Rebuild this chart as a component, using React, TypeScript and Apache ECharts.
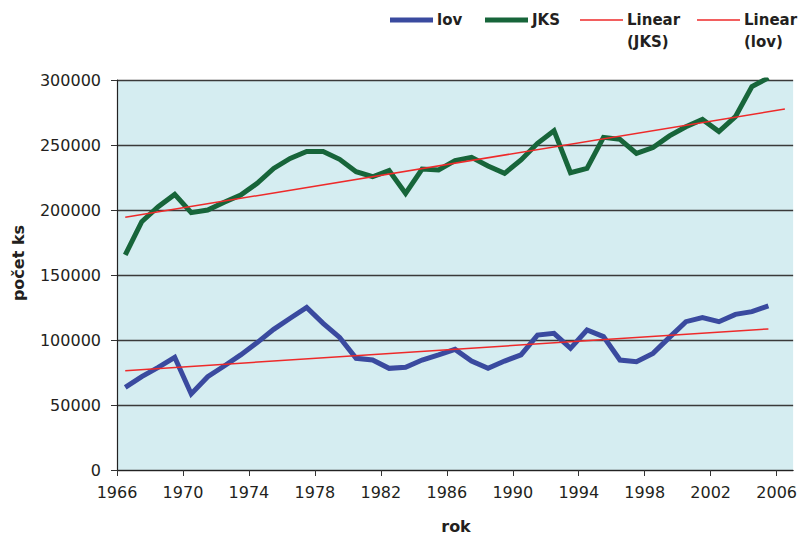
import React, { useEffect, useRef } from "react";
import * as echarts from "echarts";

const years = [
  1966, 1967, 1968, 1969, 1970, 1971, 1972, 1973, 1974, 1975,
  1976, 1977, 1978, 1979, 1980, 1981, 1982, 1983, 1984, 1985,
  1986, 1987, 1988, 1989, 1990, 1991, 1992, 1993, 1994, 1995,
  1996, 1997, 1998, 1999, 2000, 2001, 2002, 2003, 2004, 2005,
];

const lov = [
  63600, 71800, 79000, 86700, 58500, 71800, 80000, 88500, 98000, 108200,
  116700, 125100, 112800, 102000, 85900, 84600, 78200, 79000, 84600, 88500,
  92800, 83800, 78200, 83800, 88500, 103800, 105100, 93600, 107700, 102600,
  84600, 83300, 89700, 102000, 114100, 117200, 114100, 119700, 121800, 126200,
];

const jks = [
  165400, 191000, 202500, 212000, 198000, 200000, 206000, 211500, 220500, 232000,
  239700, 245000, 245000, 239000, 229500, 225600, 230300, 212800, 231500, 230800,
  238000, 240500, 233800, 228200, 238500, 251300, 261000, 228700, 232000, 255900,
  254400, 243600, 248000, 257000, 264000, 269700, 260300, 271800, 294900, 301700,
];

const trendJksYears = [1966, 2006];
const trendJksValues = [194400, 277700];
const trendLovYears = [1966, 2005];
const trendLovValues = [76400, 108500];

const xTickLabels = [1966, 1970, 1974, 1978, 1982, 1986, 1990, 1994, 1998, 2002, 2006];
const yTickMax = 300000;
const yTickStep = 50000;

const seriesNames = ["lov", "JKS", "Linear (JKS)", "Linear (lov)"];

const BLUE = "#3a4a9f";
const GREEN = "#17653a";
const RED = "#ee2a2a";
const TEXT = "#231f20";

// center of each yearly category
const pts = (ys: number[], vs: number[]) => ys.map((y, i) => [y + 0.5, vs[i]]);

export default function App() {
  const ref = useRef<HTMLDivElement>(null);

  useEffect(() => {
    if (!ref.current) return;
    const chart = echarts.init(ref.current, undefined, { renderer: "svg" });
    const font = "DejaVu Sans";

    const legendItems = [
      { name: seriesNames[0], label: "lov", x: 390, color: BLUE, w: 5 },
      { name: seriesNames[1], label: "JKS", x: 485, color: GREEN, w: 5 },
      { name: seriesNames[2], label: "Linear\n(JKS)", x: 580, color: RED, w: 1.5 },
      { name: seriesNames[3], label: "Linear\n(lov)", x: 697, color: RED, w: 1.5 },
    ];
    const legendGraphics: any[] = [];
    legendItems.forEach((it) => {
      legendGraphics.push({
        type: "line",
        shape: { x1: it.x, y1: 20, x2: it.x + 43, y2: 20 },
        style: { stroke: it.color, lineWidth: it.w },
      });
      legendGraphics.push({
        type: "text",
        x: it.x + 47,
        y: 9,
        style: {
          text: it.label,
          font: `bold 15px '${font}'`,
          fill: TEXT,
          lineHeight: 22,
          align: "left",
          verticalAlign: "top",
        },
      });
    });

    chart.setOption({
      animation: false,
      textStyle: { fontFamily: font },
      grid: {
        left: 117,
        right: 5,
        top: 80,
        bottom: 67,
        show: true,
        backgroundColor: "#d5edf1",
        borderWidth: 0,
      },
      graphic: [
        ...legendGraphics,
        {
          type: "text",
          x: 18,
          y: 263,
          rotation: Math.PI / 2,
          style: {
            text: "počet ks",
            font: `bold 16px '${font}'`,
            fill: TEXT,
            align: "center",
            verticalAlign: "middle",
          },
        },
        {
          type: "text",
          x: 456,
          y: 526,
          style: {
            text: "rok",
            font: `bold 16px '${font}'`,
            fill: TEXT,
            align: "center",
            verticalAlign: "middle",
          },
        },
      ],
      xAxis: {
        type: "value",
        min: 1966,
        max: 2007,
        axisLine: { show: true, lineStyle: { color: "#222", width: 1.2 } },
        axisTick: {
          show: true,
          length: 6,
          customValues: xTickLabels,
          lineStyle: { color: "#333" },
        },
        axisLabel: {
          customValues: xTickLabels,
          color: TEXT,
          fontSize: 16,
          margin: 14,
          formatter: (v: number) => String(v),
        },
        splitLine: { show: false },
      },
      yAxis: {
        type: "value",
        min: 0,
        max: yTickMax,
        interval: yTickStep,
        axisLine: { show: true, lineStyle: { color: "#222", width: 1.2 } },
        axisTick: { show: true, length: 6, lineStyle: { color: "#333" } },
        axisLabel: {
          color: TEXT,
          fontSize: 16,
          margin: 16,
          formatter: (v: number) => String(v),
        },
        splitLine: { show: true, lineStyle: { color: "#3a3a3a", width: 1.3 } },
      },
      series: [
        {
          name: seriesNames[2],
          type: "line",
          data: pts(trendJksYears, trendJksValues),
          showSymbol: false,
          lineStyle: { color: RED, width: 1.5 },
          z: 3,
        },
        {
          name: seriesNames[3],
          type: "line",
          data: pts(trendLovYears, trendLovValues),
          showSymbol: false,
          lineStyle: { color: RED, width: 1.5 },
          z: 3,
        },
        {
          name: seriesNames[0],
          type: "line",
          data: pts(years, lov),
          showSymbol: false,
          lineStyle: { color: BLUE, width: 5, join: "miter" },
          z: 2,
        },
        {
          name: seriesNames[1],
          type: "line",
          data: pts(years, jks),
          showSymbol: false,
          lineStyle: { color: GREEN, width: 5, join: "miter" },
          z: 2,
        },
      ],
    });

    return () => chart.dispose();
  }, []);

  return (
    <div
      ref={ref}
      style={{ position: "fixed", left: 0, top: 0, width: 800, height: 537, background: "#fff" }}
    />
  );
}
